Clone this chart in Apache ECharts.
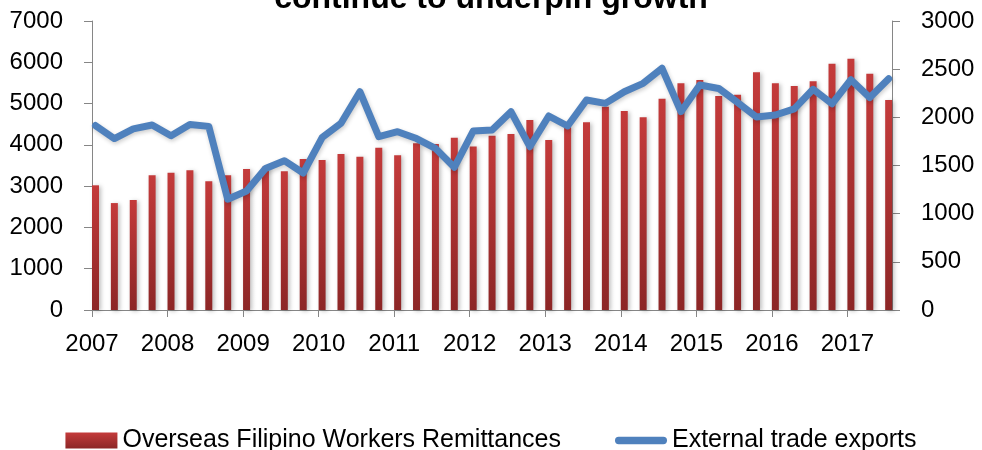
<!DOCTYPE html>
<html>
<head>
<meta charset="utf-8">
<script src="https://cdn.jsdelivr.net/npm/echarts@6/dist/echarts.min.js"></script>
<style>
  html, body {margin: 0; padding: 0; background: #fff;}
  #chart {width: 982px; height: 450px;}
</style>
</head>
<body>
<div id="chart"></div>
<script>
// quarterly data, 2007 Q1 .. 2017 Q3
var quarters = [
  '2007Q1', '2007Q2', '2007Q3', '2007Q4', '2008Q1', '2008Q2', '2008Q3', '2008Q4',
  '2009Q1', '2009Q2', '2009Q3', '2009Q4', '2010Q1', '2010Q2', '2010Q3', '2010Q4',
  '2011Q1', '2011Q2', '2011Q3', '2011Q4', '2012Q1', '2012Q2', '2012Q3', '2012Q4',
  '2013Q1', '2013Q2', '2013Q3', '2013Q4', '2014Q1', '2014Q2', '2014Q3', '2014Q4',
  '2015Q1', '2015Q2', '2015Q3', '2015Q4', '2016Q1', '2016Q2', '2016Q3', '2016Q4',
  '2017Q1', '2017Q2', '2017Q3'
];
var remittances = [
  3020, 2590, 2665, 3262, 3326, 3383, 3116, 3262, 3415, 3471, 3359, 3657, 3633, 3778,
  3713, 3931, 3746, 4036, 4020, 4173, 3963, 4222, 4263, 4602, 4117, 4424, 4545, 4924,
  4820, 4666, 5118, 5490, 5570, 5183, 5215, 5756, 5490, 5425, 5538, 5966, 6086, 5724, 5086
];
var exportsData = [
  1915, 1780, 1880, 1920, 1808, 1925, 1906, 1150, 1235, 1470, 1550, 1422, 1790, 1938,
  2266, 1800, 1851, 1780, 1678, 1481, 1858, 1869, 2059, 1695, 2014, 1910, 2180, 2145,
  2266, 2353, 2509, 2059, 2336, 2300, 2155, 2003, 2024, 2088, 2291, 2141, 2390, 2205, 2400
];
var years = [2007, 2008, 2009, 2010, 2011, 2012, 2013, 2014, 2015, 2016, 2017];
var leftTicks = [0, 1000, 2000, 3000, 4000, 5000, 6000, 7000];
var rightTicks = [0, 500, 1000, 1500, 2000, 2500, 3000];

var labels = ['Overseas Filipino Workers Remittances', 'External trade exports'];

// quarter label -> position on the year axis (points sit a little after the quarter start)
function quarterPos(q) {
  return +q.slice(0, 4) + (+q.slice(5) - 1) / 4 + 0.046;
}

function pairs(values) {
  var out = [];
  for (var i = 0; i < quarters.length; i++) {
    out.push([quarterPos(quarters[i]), values[i]]);
  }
  return out;
}

function plain(v) {
  return String(v);
}

var font = 'Liberation Sans, Arial, sans-serif';
var axisColor = '#868686';
var lineColor = '#4F81BD';
var barColor = new echarts.graphic.LinearGradient(0, 0, 0, 1, [
  {offset: 0, color: '#C43B3B'},
  {offset: 1, color: '#8C2626'}
]);

var chart = echarts.init(document.getElementById('chart'), null, {renderer: 'canvas'});

chart.setOption({
  animation: false,
  backgroundColor: '#fff',
  textStyle: {fontFamily: font},
  title: {
    text: 'continue to underpin growth',
    left: 'center',
    top: -22,
    textStyle: {fontFamily: font, fontSize: 32, fontWeight: 'bold', color: '#000'}
  },
  grid: {left: 92, right: 90, top: 21, bottom: 140},
  legend: {
    data: [
      {name: labels[0], icon: 'rect', itemStyle: {color: barColor, shadowBlur: 0}},
      {
        name: labels[1],
        icon: 'path://M4,0 L52,0 A4,4 0 0 1 52,8 L4,8 A4,4 0 0 1 4,0 Z',
        itemStyle: {color: lineColor}
      }
    ],
    left: 'center',
    top: 423,
    itemWidth: 52,
    itemHeight: 16,
    itemGap: 54,
    textStyle: {fontFamily: font, fontSize: 25, color: '#000'}
  },
  xAxis: {
    type: 'value',
    min: 2007,
    max: 2017.59,
    interval: 1,
    splitLine: {show: false},
    axisLine: {show: true, onZero: false, lineStyle: {color: axisColor}},
    axisTick: {show: true, length: 7, customValues: years, lineStyle: {color: axisColor}},
    axisLabel: {
      customValues: years,
      margin: 22,
      fontSize: 24,
      color: '#000',
      fontFamily: font,
      formatter: plain
    }
  },
  yAxis: [
    {
      type: 'value',
      min: 0,
      max: 7000,
      interval: 1000,
      splitLine: {show: false},
      axisLine: {show: true, lineStyle: {color: axisColor}},
      axisTick: {show: true, length: 8, customValues: leftTicks, lineStyle: {color: axisColor}},
      axisLabel: {customValues: leftTicks, margin: 29, fontSize: 24, color: '#000', fontFamily: font, formatter: plain}
    },
    {
      type: 'value',
      position: 'right',
      min: 0,
      max: 3000,
      interval: 500,
      splitLine: {show: false},
      axisLine: {show: true, lineStyle: {color: axisColor}},
      axisTick: {show: true, length: 8, customValues: rightTicks, lineStyle: {color: axisColor}},
      axisLabel: {customValues: rightTicks, margin: 29, fontSize: 24, color: '#000', fontFamily: font, formatter: plain}
    }
  ],
  series: [
    {
      name: labels[0],
      type: 'bar',
      yAxisIndex: 0,
      barWidth: 7,
      data: pairs(remittances),
      itemStyle: {
        color: barColor,
        shadowColor: 'rgba(0,0,0,0.25)',
        shadowBlur: 4,
        shadowOffsetX: 2,
        shadowOffsetY: 1
      }
    },
    {
      name: labels[1],
      type: 'line',
      yAxisIndex: 1,
      data: pairs(exportsData),
      symbol: 'none',
      z: 5,
      lineStyle: {
        color: lineColor,
        width: 7,
        cap: 'round',
        join: 'round',
        shadowColor: 'rgba(0,0,0,0.2)',
        shadowBlur: 4,
        shadowOffsetX: 1,
        shadowOffsetY: 2
      },
      itemStyle: {color: lineColor}
    }
  ]
});

window.addEventListener('resize', function () {
  chart.resize();
});
</script>
</body>
</html>
